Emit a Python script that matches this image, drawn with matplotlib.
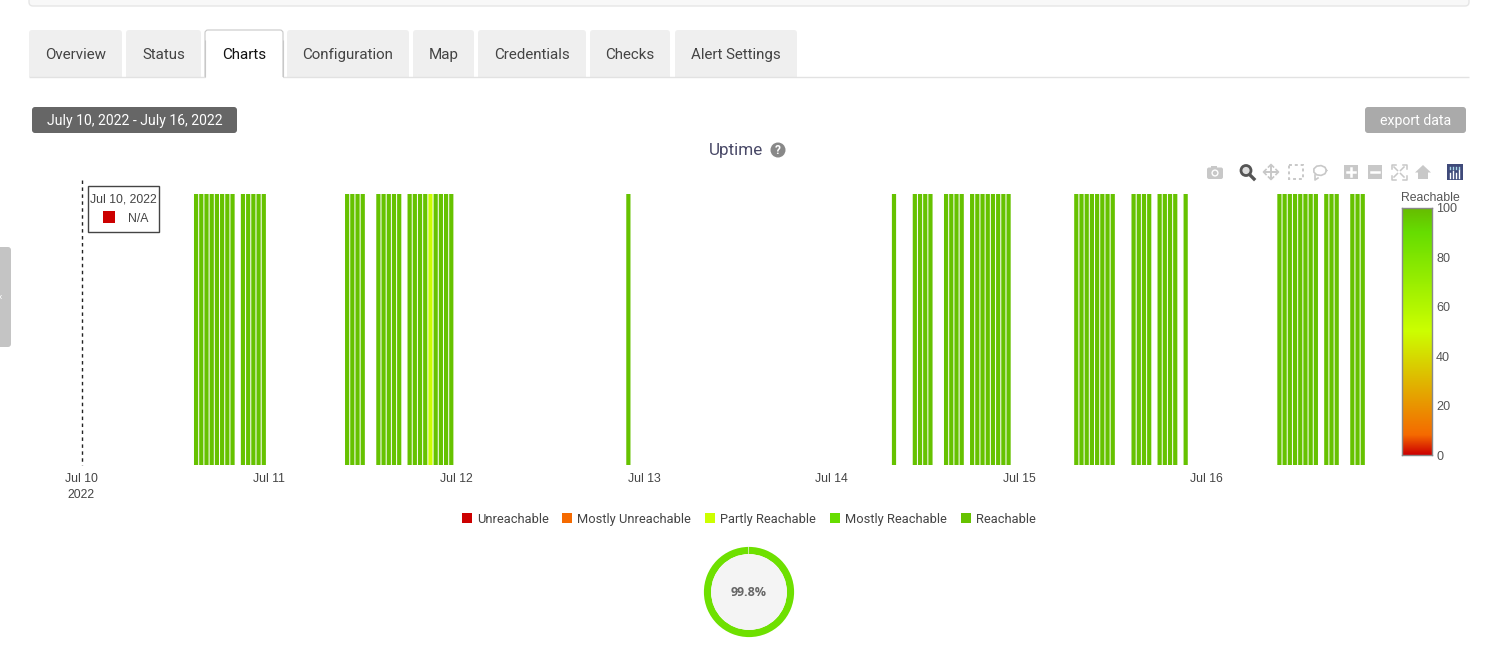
import datetime as dt
import numpy as np
import matplotlib
matplotlib.use('Agg')
import matplotlib.pyplot as plt
import matplotlib.dates as mdates
from matplotlib.colors import LinearSegmentedColormap
from matplotlib.patches import Rectangle, FancyBboxPatch, Circle

W, H = 1500, 653

# data: 40 minute slots counted from Jul 10 00:00
up_slots = [22, 23, 24, 25, 26, 27, 28, 29, 31, 32, 33, 34, 35,
            51, 52, 53, 54, 57, 58, 59, 60, 61,
            63, 64, 65, 66, 67, 68, 69, 70, 71,
            105,
            156, 160, 161, 162, 163, 166, 167, 168, 169,
            171, 172, 173, 174, 175, 176, 177, 178,
            191, 192, 193, 194, 195, 196, 197, 198,
            202, 203, 204, 205, 207, 208, 209, 210, 212,
            230, 231, 232, 233, 234, 235, 236, 237,
            239, 240, 241, 244, 245, 246]
partly_slots = [67]

day_labels = ['Jul 10\n2022', 'Jul 11', 'Jul 12', 'Jul 13', 'Jul 14', 'Jul 15', 'Jul 16']
days = [dt.datetime(2022, 7, d) for d in range(10, 17)]

legend_names = ['Unreachable', 'Mostly Unreachable', 'Partly Reachable', 'Mostly Reachable', 'Reachable']
legend_colors = ['#cc0000', '#f56a00', '#ccff00', '#66dd00', '#66c200']
legend_x = [462, 562, 705, 830, 961]

cbar_stops = [0, 8, 50, 90, 100]
cbar_colors = ['#cc0000', '#f56a00', '#ccff00', '#66dd00', '#66bb00']
cbar_ticks = [0, 20, 40, 60, 80, 100]

uptime_pct = 99.8

tab_names = ['Overview', 'Status', 'Charts', 'Configuration', 'Map', 'Credentials', 'Checks', 'Alert Settings']
tab_left = [29, 126, 205, 287, 413, 478, 590, 675]
tab_right = [122, 201, 283, 409, 474, 586, 670, 797]


def px_axes(left, top, right, bottom):
    return fig.add_axes([left / W, 1 - bottom / H, (right - left) / W, (bottom - top) / H])


cmap = LinearSegmentedColormap.from_list(
    'reach', [(s / 100, c) for s, c in zip(cbar_stops, cbar_colors)])

fig = plt.figure(figsize=(15, 6.53), dpi=100, facecolor='white')

# page furniture, drawn in pixel coordinates
ui = fig.add_axes([0, 0, 1, 1])
ui.set_xlim(0, W)
ui.set_ylim(H, 0)
ui.axis('off')


def box(x0, y0, x1, y1, color, edge='none', r=3, lw=1, z=1):
    ui.add_patch(FancyBboxPatch((x0 + r, y0 + r), x1 - x0 - 2 * r, y1 - y0 - 2 * r,
                                boxstyle='round,pad=%d,rounding_size=%d' % (r, r),
                                fc=color, ec=edge, lw=lw, zorder=z))


box(29, -12, 1469, 6, '#f8f8f8', '#e6e6e6', r=4)
box(-6, 247, 11, 347, '#c4c4c4', r=3)
ui.text(0, 297, '‹', fontsize=8, color='white', ha='center', va='center', family='Roboto')

for name, l, r in zip(tab_names, tab_left, tab_right):
    active = name == 'Charts'
    if active:
        box(l, 30, r, 90, 'white', '#c8c8c8', r=3, lw=0.8, z=2)
    else:
        box(l, 30, r, 90, '#efefef', r=3, z=1)
    ui.text((l + r) / 2, 53.5, name, fontsize=10.9, family='Roboto',
            color='#111111' if active else '#444444', ha='center', va='center_baseline', zorder=5)
# covers the bottom of the tabs, the active one stays open
ui.add_patch(Rectangle((20, 76.5), 800, 16, fc='white', ec='none', zorder=3))
ui.plot([29, 205], [76.5, 76.5], color='#e2e2e2', lw=1, zorder=4, solid_capstyle='butt')
ui.plot([283, 1469], [76.5, 76.5], color='#e2e2e2', lw=1, zorder=4, solid_capstyle='butt')
ui.plot([205, 205], [40, 77], color='#c8c8c8', lw=0.8, zorder=4, solid_capstyle='butt')
ui.plot([283, 283], [40, 77], color='#c8c8c8', lw=0.8, zorder=4, solid_capstyle='butt')

box(32, 107, 237, 133, '#666666', r=3)
ui.text(134.5, 120.5, 'July 10, 2022 - July 16, 2022', fontsize=10.1, family='Roboto',
        color='white', ha='center', va='center', zorder=3)
box(1365, 107, 1466, 133, '#aaaaaa', r=3)
ui.text(1415.5, 120.5, 'export data', fontsize=10.2, family='Roboto',
        color='white', ha='center', va='center', zorder=3)

ui.text(736.5, 150.5, 'Uptime', fontsize=12.3, family='Roboto', color='#4a4a68',
        ha='center', va='center')
ui.add_patch(Circle((778, 150), 7.5, fc='#888888', ec='none'))
ui.text(778, 150.5, '?', fontsize=8.5, fontweight='bold', family='Roboto', color='white',
        ha='center', va='center', zorder=3)

# modebar icons
ic = '#c8c8c8'
ui.add_patch(FancyBboxPatch((1208, 168.5), 14, 9.5, boxstyle='round,pad=1,rounding_size=2', fc=ic, ec='none'))
ui.add_patch(Rectangle((1211, 165.5), 6, 3, fc=ic, ec='none'))
ui.add_patch(Circle((1215, 173), 3.6, fc='white', ec='none', zorder=3))
ui.add_patch(Circle((1215, 173), 2.2, fc=ic, ec='none', zorder=4))
ui.add_patch(Circle((1246, 170.5), 5, fc='#dddddd', ec='#555555', lw=2))
ui.plot([1250, 1254], [175, 179], color='#555555', lw=2.4)
ui.plot([1271, 1271], [166, 178], color=ic, lw=1.4)
ui.plot([1265, 1277], [172, 172], color=ic, lw=1.4)
ui.plot([1268.5, 1271, 1273.5], [167, 164.5, 167], color=ic, lw=1.2)
ui.plot([1268.5, 1271, 1273.5], [177, 179.5, 177], color=ic, lw=1.2)
ui.plot([1266, 1263.5, 1266], [169.5, 172, 174.5], color=ic, lw=1.2)
ui.plot([1276, 1278.5, 1276], [169.5, 172, 174.5], color=ic, lw=1.2)
ui.add_patch(Rectangle((1288.5, 164.5), 14, 14, fc='none', ec=ic, lw=1.4, ls=(0, (1.5, 1.5))))
th = np.array([0, 40, 80, 120, 160, 200, 240, 280, 320, 360]) * np.pi / 180
ui.plot(1320 + 6.5 * np.cos(th), 170.5 + 5 * np.sin(th), color=ic, lw=1.2)
ui.plot([1315, 1315, 1318], [175, 180, 178], color=ic, lw=1.2)
for cx, sign in [(1351, '+'), (1375, '-')]:
    ui.add_patch(Rectangle((cx - 7, 165), 14, 14, fc=ic, ec='none'))
    ui.plot([cx - 4, cx + 4], [172, 172], color='white', lw=1.8, zorder=3)
    if sign == '+':
        ui.plot([cx, cx], [168, 176], color='white', lw=1.8, zorder=3)
for sx, sy in [(-1, -1), (1, -1), (-1, 1), (1, 1)]:
    cx, cy = 1399 + 7.5 * sx, 172 + 7.5 * sy
    ui.plot([cx - 4 * sx, cx, cx], [cy, cy, cy - 4 * sy], color=ic, lw=1.1)
    ui.plot([1399 + 1.5 * sx, 1399 + 5 * sx], [172 + 1.5 * sy, 172 + 5 * sy], color=ic, lw=1.1)
ui.fill([1415, 1423, 1431, 1428, 1428, 1418, 1418], [172.5, 165, 172.5, 172.5, 179, 179, 172.5],
        color=ic, lw=0)
ui.add_patch(Rectangle((1447, 164), 16, 16, fc='#3f4a7a', ec='none'))
for dx, top in [(1450, 173), (1453, 171), (1456, 173), (1459, 170)]:
    ui.plot([dx, dx], [top, 178], color='white', lw=1, zorder=3)
    ui.plot([dx, dx], [167, 168.5], color='#a8d8e8', lw=1, zorder=3)

# hover label
ui.add_patch(Rectangle((88, 186), 71, 46, fc='white', ec='#444444', lw=1, zorder=6))
ui.text(123.5, 199, 'Jul 10, 2022', fontsize=8.8, family='Liberation Sans', color='#444444',
        ha='center', va='center', zorder=7)
ui.add_patch(Rectangle((103, 211), 12, 12, fc='#cc0000', ec='none', zorder=7))
ui.text(138, 218.5, 'N/A', fontsize=8.8, family='Liberation Sans', color='#444444',
        ha='center', va='center', zorder=7)
ui.plot([81.5, 81.5], [180, 465], color='#222222', lw=1, ls=(0, (2.5, 2.5)), zorder=2)

# main chart
ax = px_axes(81.5, 180, 1375.5, 465)
ax.patch.set_alpha(0)
start = dt.datetime(2022, 7, 10)
x = [start + dt.timedelta(minutes=40 * s) for s in up_slots]
colors = ['#ccff00' if s in partly_slots else '#66c200' for s in up_slots]
bar_w = 4.2 / 187.5
bars = ax.bar(mdates.date2num(x), [1] * len(x), width=bar_w, color=colors, lw=0)
for b in bars:
    b.set_snap(False)
ax.set_ylim(0, 285 / 271)
ax.set_xlim(mdates.date2num(start), mdates.date2num(start) + (1375.5 - 81.5) / 187.5)
for s in ax.spines.values():
    s.set_visible(False)
ax.set_yticks([])
ax.set_xticks(mdates.date2num(days))
ax.set_xticklabels(day_labels, fontsize=8.8, family='Liberation Sans', color='#444444', linespacing=1.4)
ax.tick_params(axis='x', length=0, pad=6)

# colorbar
cax = px_axes(1402, 208, 1432, 455)
grad = np.linspace(100, 0, 256).reshape(-1, 1)
cax.imshow(grad, aspect='auto', cmap=cmap, vmin=0, vmax=100, extent=[0, 1, 0, 100])
cax.set_xticks([])
cax.yaxis.tick_right()
cax.set_yticks(cbar_ticks)
cax.set_yticklabels([str(t) for t in cbar_ticks], fontsize=9.1, family='Liberation Sans', color='#555555')
cax.tick_params(axis='y', length=0, pad=3)
for s in cax.spines.values():
    s.set_color('#888888')
    s.set_linewidth(1)
ui.text(1430, 198, 'Reachable', fontsize=8.8, family='Liberation Sans', color='#555555',
        ha='center', va='center')

# legend
for name, c, lx in zip(legend_names, legend_colors, legend_x):
    ui.add_patch(Rectangle((lx, 513), 10, 10, fc=c, ec='none'))
    ui.text(lx + 15, 519.5, name, fontsize=9.25, family='Roboto', color='#444444', ha='left', va='center')

# donut
dax = px_axes(703, 546, 795, 638)
dax.pie([uptime_pct, 100 - uptime_pct], colors=['#6ee000', '#d6e8c0'], startangle=90, counterclock=False,
        radius=1, wedgeprops=dict(width=0.16, lw=0))
dax.add_patch(Circle((0, 0), 0.84, fc='#f4f4f4', ec='none'))
dax.set_xlim(-1.02, 1.02)
dax.set_ylim(-1.02, 1.02)
dax.text(0, 0, '%.1f%%' % uptime_pct, fontsize=9, fontweight='bold', family='Open Sans',
         color='#666666', ha='center', va='center')

fig.savefig('out.png', dpi=100)
